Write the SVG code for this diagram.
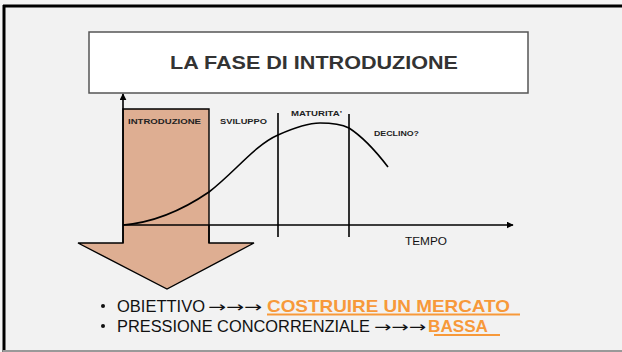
<svg xmlns="http://www.w3.org/2000/svg" width="622" height="352" viewBox="0 0 622 352">
<defs>
<style>
.lbl{font-family:"Liberation Sans",Arial,sans-serif;font-weight:bold;font-size:7.5px;fill:#222;}
.ax{stroke:#000;stroke-width:1.6;fill:none;}
.bul{font-family:"Liberation Sans",Arial,sans-serif;font-size:16.3px;fill:#111;}
.arr{font-family:"DejaVu Sans",sans-serif;font-size:15px;fill:#111;}
.org{font-family:"Liberation Sans",Arial,sans-serif;font-size:17px;font-weight:bold;fill:#f7993a;}
</style>
<marker id="ah" viewBox="0 0 10 10" refX="9" refY="5" markerWidth="7" markerHeight="7" markerUnits="userSpaceOnUse" orient="auto">
<path d="M0,0 L10,5 L0,10 z" fill="#000"/>
</marker>
</defs>
<rect x="0" y="0" width="622" height="352" fill="#f5f5f5"/>
<rect x="3" y="5" width="619" height="347" fill="#f2f2f2"/>
<line x1="3" y1="6" x2="622" y2="6" stroke="#000" stroke-width="3"/>
<line x1="4" y1="5" x2="4" y2="352" stroke="#000" stroke-width="3"/>
<line x1="3" y1="351" x2="622" y2="351" stroke="#999" stroke-width="2"/>

<g id="title">
<rect x="89" y="32" width="439" height="61" fill="#fff" stroke="#555" stroke-width="1.5"/>
<text x="314" y="69" text-anchor="middle" font-family="Liberation Sans, Arial, sans-serif" font-weight="bold" font-size="18" fill="#333" textLength="288" lengthAdjust="spacingAndGlyphs">LA FASE DI INTRODUZIONE</text>
</g>

<g id="intro-arrow">
<polygon points="123,109 209,109 209,243 254,243 167,289 78,243 123,243" fill="#deae92" stroke="#000" stroke-width="1.4" stroke-linejoin="miter"/>
</g>

<g id="connectors">
<line class="ax" x1="123" y1="243" x2="123" y2="94" marker-end="url(#ah)"/>
<line class="ax" x1="123" y1="225" x2="513" y2="225" marker-end="url(#ah)"/>
<line class="ax" x1="278" y1="113" x2="278" y2="237"/>
<line class="ax" x1="349" y1="114" x2="349" y2="237"/>
<line class="ax" x1="209" y1="225" x2="209" y2="243"/>
<path class="ax" stroke-width="2" d="M123,225 C160,222 190,205 209,192 C235,172 255,145 278,135 C298,126 312,123 320,123 C335,123 343,125 349,128 C363,137 375,150 388,167"/>
</g>

<g id="labels">
<text class="lbl" x="128" y="124" textLength="73" lengthAdjust="spacingAndGlyphs">INTRODUZIONE</text>
<text class="lbl" x="220" y="124" textLength="47" lengthAdjust="spacingAndGlyphs">SVILUPPO</text>
<text class="lbl" x="291" y="116" textLength="51" lengthAdjust="spacingAndGlyphs">MATURITA'</text>
<text class="lbl" x="374" y="136" textLength="45" lengthAdjust="spacingAndGlyphs">DECLINO?</text>
<text x="405" y="245" font-family="Liberation Sans, Arial, sans-serif" font-size="11" fill="#111" textLength="42" lengthAdjust="spacingAndGlyphs">TEMPO</text>
</g>

<g id="bullets">
<circle cx="103" cy="306" r="2" fill="#111"/>
<text class="bul" x="117" y="312" textLength="88" lengthAdjust="spacingAndGlyphs">OBIETTIVO</text>
<text class="arr" x="208" y="312" textLength="54" lengthAdjust="spacingAndGlyphs">→→→</text>
<text class="org" x="267" y="312" textLength="243" lengthAdjust="spacingAndGlyphs">COSTRUIRE UN MERCATO</text>
<line x1="267" y1="314.5" x2="520" y2="314.5" stroke="#f7993a" stroke-width="1.8"/>
<circle cx="103" cy="326" r="2" fill="#111"/>
<text class="bul" x="117" y="332" textLength="253" lengthAdjust="spacingAndGlyphs">PRESSIONE CONCORRENZIALE</text>
<text class="arr" x="374" y="332" textLength="52" lengthAdjust="spacingAndGlyphs">→→→</text>
<text class="org" x="428" y="332" textLength="60" lengthAdjust="spacingAndGlyphs">BASSA</text>
<line x1="434" y1="335" x2="500" y2="335" stroke="#f7993a" stroke-width="1.8"/>
</g>
</svg>
